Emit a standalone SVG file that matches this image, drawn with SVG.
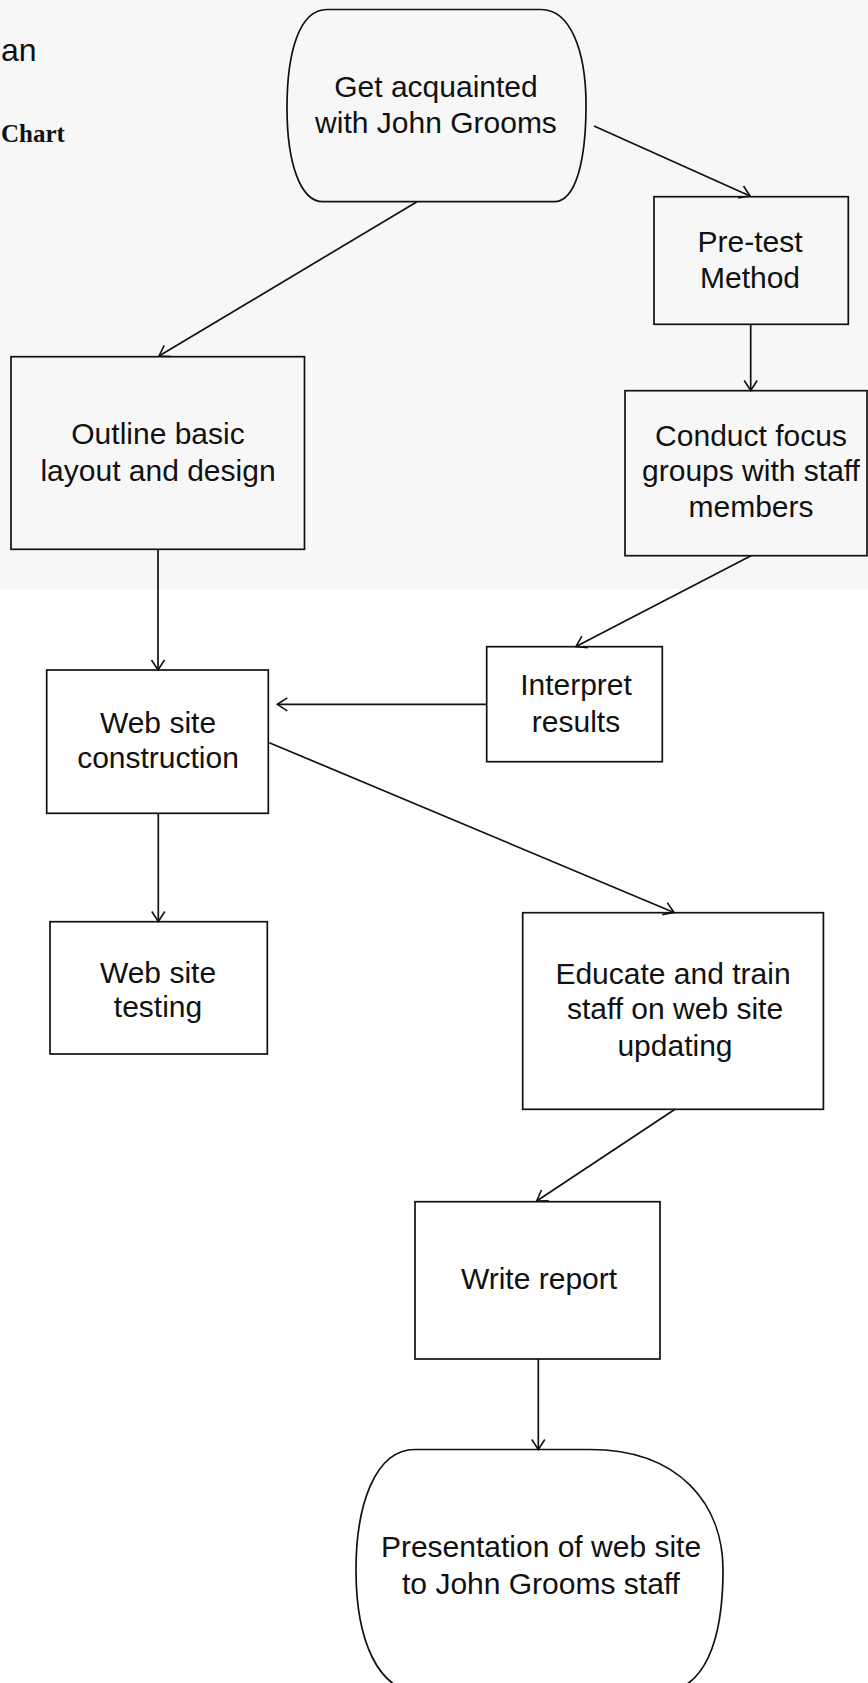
<svg xmlns="http://www.w3.org/2000/svg" width="868" height="1683" viewBox="0 0 868 1683">
<style>
.bg{fill:#ffffff}
.scan{fill:#f7f7f7}
.box{fill:none;stroke:#111;stroke-width:1.7}
.term{fill:none;stroke:#111;stroke-width:1.7}
.lbl{font-family:"Liberation Sans",Arial,sans-serif;font-size:30px;fill:#111;text-anchor:middle}
.conn line{stroke:#111;stroke-width:1.7;fill:none}
</style>
<defs>
<marker id="ah" viewBox="-12 -8 14 16" markerWidth="14" markerHeight="16" refX="0" refY="0" orient="auto" markerUnits="userSpaceOnUse">
<path d="M-10,-6.5 L0,0 L-10,6.5" fill="none" stroke="#111" stroke-width="1.6"/>
</marker>
</defs>
<rect class="bg" x="0" y="0" width="868" height="1683"/>
<rect class="scan" x="0" y="0" width="868" height="589"/>

<g id="title">
<text x="36.5" y="61" font-family="'Liberation Sans',Arial,sans-serif" font-size="32" fill="#111" text-anchor="end">an</text>
<text x="1" y="142" font-family="'Liberation Serif','Times New Roman',serif" font-size="25" font-weight="bold" fill="#111">Chart</text>
</g>

<g class="conn" id="connectors">
<line x1="594" y1="126" x2="750" y2="196" marker-end="url(#ah)"/>
<line x1="417" y1="201.7" x2="159" y2="356" marker-end="url(#ah)"/>
<line x1="750.7" y1="324.3" x2="750.7" y2="390.5" marker-end="url(#ah)"/>
<line x1="751" y1="555.7" x2="576" y2="646.5" marker-end="url(#ah)"/>
<line x1="486.7" y1="704.3" x2="277.3" y2="704.3" marker-end="url(#ah)"/>
<line x1="158" y1="549.3" x2="158" y2="670" marker-end="url(#ah)"/>
<line x1="269.3" y1="742.7" x2="674" y2="912.5" marker-end="url(#ah)"/>
<line x1="158.3" y1="813.3" x2="158.3" y2="921.5" marker-end="url(#ah)"/>
<line x1="675" y1="1109.3" x2="536.7" y2="1201" marker-end="url(#ah)"/>
<line x1="538.3" y1="1359" x2="538.3" y2="1449.5" marker-end="url(#ah)"/>
</g>

<g id="n-start">
<path class="term" d="M327,9.5 L541,9.5 C570,9.5 586,50 586,105 C586,160 576,201.7 554,201.7 L323,201.7 C300,201.7 287,162 287,108 C287,50 300,9.5 327,9.5 Z"/>
<text class="lbl" x="436" y="96.7">Get acquainted</text>
<text class="lbl" x="436" y="133.3">with John Grooms</text>
</g>

<g id="n-pretest">
<rect class="box" x="654" y="196.7" width="194.3" height="127.6"/>
<text class="lbl" x="750" y="251.7">Pre-test</text>
<text class="lbl" x="750" y="288.3">Method</text>
</g>

<g id="n-outline">
<rect class="box" x="11" y="356.7" width="293.5" height="192.6"/>
<text class="lbl" x="158" y="444">Outline basic</text>
<text class="lbl" x="158" y="480.7">layout and design</text>
</g>

<g id="n-conduct">
<rect class="box" x="625" y="390.7" width="242" height="165"/>
<text class="lbl" x="751" y="445.7">Conduct focus</text>
<text class="lbl" x="751" y="481">groups with staff</text>
<text class="lbl" x="751" y="517">members</text>
</g>

<g id="n-interpret">
<rect class="box" x="486.7" y="646.7" width="175.6" height="115"/>
<text class="lbl" x="576" y="695">Interpret</text>
<text class="lbl" x="576" y="731.7">results</text>
</g>

<g id="n-construction">
<rect class="box" x="46.7" y="670" width="221.6" height="143.3"/>
<text class="lbl" x="158" y="733.3">Web site</text>
<text class="lbl" x="158" y="768.3">construction</text>
</g>

<g id="n-testing">
<rect class="box" x="50" y="921.7" width="217.3" height="132.3"/>
<text class="lbl" x="158" y="983.3">Web site</text>
<text class="lbl" x="158" y="1017">testing</text>
</g>

<g id="n-educate">
<rect class="box" x="522.7" y="912.7" width="300.7" height="196.6"/>
<text class="lbl" x="673" y="984">Educate and train</text>
<text class="lbl" x="675" y="1019.3">staff on web site</text>
<text class="lbl" x="675" y="1056">updating</text>
</g>

<g id="n-report">
<rect class="box" x="415" y="1201.7" width="245" height="157.3"/>
<text class="lbl" x="539" y="1289.3">Write report</text>
</g>

<g id="n-present">
<path class="term" d="M415,1449.5 L590,1449.5 C680,1449.5 723,1505 723,1570 C723,1640 705,1692 660,1692 L420,1692 C378,1692 356,1640 356,1570 C356,1505 375,1449.5 415,1449.5 Z"/>
<text class="lbl" x="541" y="1557">Presentation of web site</text>
<text class="lbl" x="541" y="1594.4">to John Grooms staff</text>
</g>
</svg>
